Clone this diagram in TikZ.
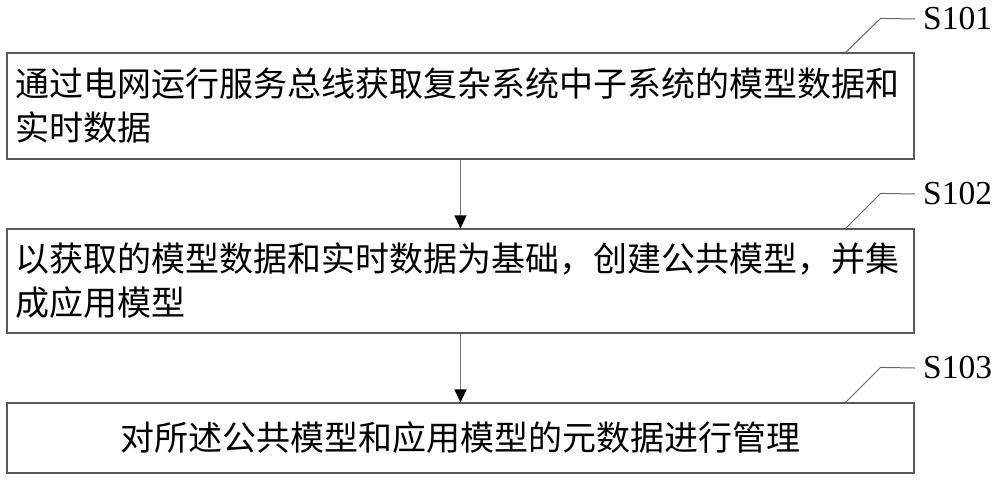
\documentclass[tikz,border=0pt]{standalone}
\usepackage{fontspec}
\setmainfont{Liberation Serif}
\newfontfamily\cjk{Noto Sans CJK SC}
\usetikzlibrary{arrows.meta,calc}
\tikzset{
  stepbox/.style={draw=black!65, line width=1.2pt, rectangle, inner xsep=8pt, inner ysep=0pt,
    font=\cjk\fontsize{34}{44}\selectfont},
  leader/.style={draw=black!60, line width=1pt},
  flow/.style={draw=black!55, line width=1.3pt, -{Triangle[width=12pt,length=13pt,color=black]}},
  steplabel/.style={inner sep=0pt, anchor=west, font=\fontsize{33.5}{36}\selectfont}
}
\begin{document}
\begin{tikzpicture}[x=1pt,y=-1pt]
\useasboundingbox (0,0) rectangle (1000,480);
\node[stepbox, minimum width=907pt, minimum height=106pt, text width=891pt, align=left] (b1) at (460.5,106)
  {通过电网运行服务总线获取复杂系统中子系统的模型数据和\\实时数据};
\node[stepbox, minimum width=907pt, minimum height=104pt, text width=891pt, align=left] (b2) at (460.5,281)
  {以获取的模型数据和实时数据为基础，创建公共模型，并集\\成应用模型};
\node[stepbox, minimum width=907pt, minimum height=70pt, text width=891pt, align=center] (b3) at (460.5,438)
  {对所述公共模型和应用模型的元数据进行管理};
\draw[flow] (b1.south) -- (b2.north);
\draw[flow] (b2.south) -- (b3.north);
\node[steplabel] (s1) at (923,19) {S101};
\node[steplabel] (s2) at (923,194) {S102};
\node[steplabel] (s3) at (923,368) {S103};
\coordinate (c1) at ([xshift=-69pt]b1.north east);
\coordinate (c2) at ([xshift=-69pt]b2.north east);
\coordinate (c3) at ([xshift=-69pt]b3.north east);
\draw[leader] (c1) -- ($(c1)+(35,-34)$) -- ([xshift=-8pt]s1.west);
\draw[leader] (c2) -- ($(c2)+(35,-35)$) -- ([xshift=-8pt]s2.west);
\draw[leader] (c3) -- ($(c3)+(35,-35)$) -- ([xshift=-8pt]s3.west);
\end{tikzpicture}
\end{document}
